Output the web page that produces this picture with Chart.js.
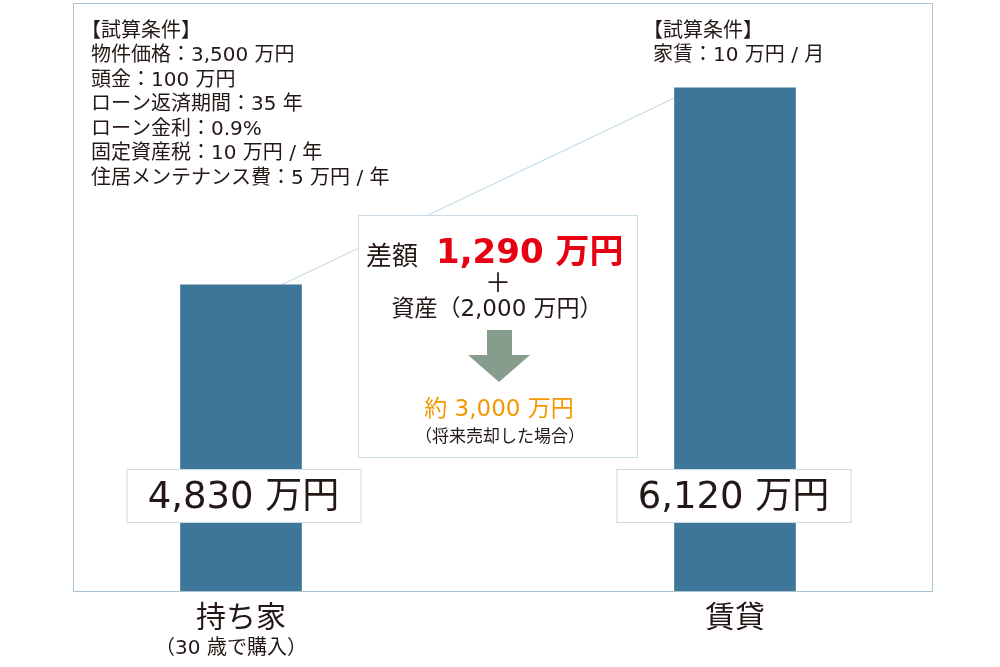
<!DOCTYPE html>
<html><head><meta charset="utf-8">
<script src="https://cdn.jsdelivr.net/npm/chart.js@4"></script>
<style>
html,body{margin:0;padding:0;background:#fff;overflow:hidden;width:1000px;height:667px}
#wrap{position:absolute;left:-6px;top:0;width:1000px;height:667px}
</style></head><body>
<div id="wrap"><canvas id="c" width="1000" height="667"></canvas></div>
<script>
// ---- data ----
const categories = ['持ち家', '賃貸'];
const subLabels = ['（30 歳で購入）', ''];
const totalCost = [4830, 6120];          // 万円
const yRange = [2826, 6676];
const conditionsOwn = ['【試算条件】', '物件価格：3,500 万円', '頭金：100 万円', 'ローン返済期間：35 年', 'ローン金利：0.9%', '固定資産税：10 万円 / 年', '住居メンテナンス費：5 万円 / 年'];
const conditionsRent = ['【試算条件】', '家賃：10 万円 / 月'];
const assetValue = 2000;
const saleValue = 3000;
const unit = '万円';

// ---- helpers ----
const OX = 6;   // canvas is shifted 6px left
const JP = "'Noto Sans CJK JP', sans-serif";
const NUM = "'DejaVu Sans', 'Noto Sans CJK JP', sans-serif";
const TXT = '#231815';
const fmt = n => n.toLocaleString('en-US');

function drawCond(ctx, lines, x, y0) {
  ctx.font = '20px ' + NUM;
  ctx.fillStyle = TXT;
  ctx.textAlign = 'left';
  ctx.textBaseline = 'middle';
  lines.forEach((t, i) => {
    const x0 = t.startsWith('【') ? x - 10 : x;
    ctx.fillText(t, x0, y0 + i * 24.5);
  });
}

const deco = {
  id: 'deco',
  beforeDatasetsDraw(chart) {
    const ctx = chart.ctx, ca = chart.chartArea;
    const bars = chart.getDatasetMeta(0).data;
    ctx.save();
    ctx.translate(OX, 0);
    // frame
    ctx.strokeStyle = '#a9c3d3'; ctx.lineWidth = 1;
    ctx.strokeRect(73.5, ca.top + 0.5, 859, ca.bottom - ca.top);
    // connector line
    const b0 = bars[0], b1 = bars[1];
    ctx.strokeStyle = '#b9d3e2';
    ctx.beginPath();
    ctx.moveTo(b0.x - OX + b0.width / 3, b0.y);
    ctx.lineTo(b1.x - OX - b1.width / 2, b1.y + 10);
    ctx.stroke();
    // middle box
    ctx.fillStyle = '#fff';
    ctx.fillRect(358.5, 215.5, 279, 242);
    ctx.strokeStyle = '#c9dce8';
    ctx.strokeRect(358.5, 215.5, 279, 242);
    ctx.textBaseline = 'middle';
    ctx.textAlign = 'left';
    ctx.fillStyle = TXT;
    ctx.font = '26px ' + JP;
    ctx.fillText('差額', 366, 255);
    ctx.fillStyle = '#e60012';
    ctx.font = 'bold 34px ' + NUM;
    ctx.fillText(fmt(totalCost[1] - totalCost[0]) + ' ' + unit, 436, 254);
    ctx.textAlign = 'center';
    ctx.fillStyle = TXT;
    ctx.font = '26px ' + JP;
    ctx.fillText('＋', 498, 282);
    ctx.font = '23px ' + NUM;
    ctx.fillText('資産（' + fmt(assetValue) + ' ' + unit + '）', 497, 310);
    // arrow
    ctx.fillStyle = '#869c8c';
    ctx.beginPath();
    ctx.moveTo(487, 330); ctx.lineTo(512, 330); ctx.lineTo(512, 355);
    ctx.lineTo(530, 355); ctx.lineTo(499, 382); ctx.lineTo(468, 355);
    ctx.lineTo(487, 355); ctx.closePath(); ctx.fill();
    ctx.fillStyle = '#f39800';
    ctx.font = '23px ' + NUM;
    ctx.fillText('約 ' + fmt(saleValue) + ' ' + unit, 499, 410);
    ctx.fillStyle = TXT;
    ctx.font = '17px ' + JP;
    ctx.fillText('（将来売却した場合）', 500, 436);
    // conditions
    drawCond(ctx, conditionsOwn, 91, 31.5);
    drawCond(ctx, conditionsRent, 653, 31.5);
    ctx.restore();
  },
  afterDatasetsDraw(chart) {
    const ctx = chart.ctx;
    const bars = chart.getDatasetMeta(0).data;
    ctx.save();
    bars.forEach((b, i) => {
      const cx = b.x + (i === 0 ? 2.5 : -1.5);
      ctx.fillStyle = '#fff';
      ctx.fillRect(cx - 117 + 0.5, 469.5, 234, 53);
      ctx.strokeStyle = '#c9dce8'; ctx.lineWidth = 1;
      ctx.strokeRect(cx - 117 + 0.5, 469.5, 234, 53);
      ctx.fillStyle = TXT;
      ctx.font = '37px ' + NUM;
      ctx.textAlign = 'center';
      ctx.textBaseline = 'middle';
      ctx.fillText(fmt(totalCost[i]) + ' ' + unit, cx, 498);
      if (subLabels[i]) {
        ctx.font = '20px ' + NUM;
        ctx.fillText(subLabels[i], b.x - 10, 649);
      }
    });
    ctx.restore();
  }
};

new Chart(document.getElementById('c'), {
  type: 'bar',
  data: {
    labels: categories,
    datasets: [{
      data: totalCost,
      backgroundColor: '#3d7699',
      borderWidth: 0,
      barThickness: 121
    }]
  },
  options: {
    responsive: false,
    animation: false,
    devicePixelRatio: 1,
    layout: { padding: { left: 0, right: 12, top: 3, bottom: 0 } },
    plugins: { legend: { display: false }, tooltip: { enabled: false } },
    scales: {
      x: {
        grid: { display: false },
        border: { display: false },
        ticks: { color: TXT, padding: -1, font: { family: "'Noto Sans CJK JP'", size: 30 } },
        afterFit: s => { s.height = 76; }
      },
      y: { display: false, min: yRange[0], max: yRange[1] }
    }
  },
  plugins: [deco]
});
</script>
</body></html>
